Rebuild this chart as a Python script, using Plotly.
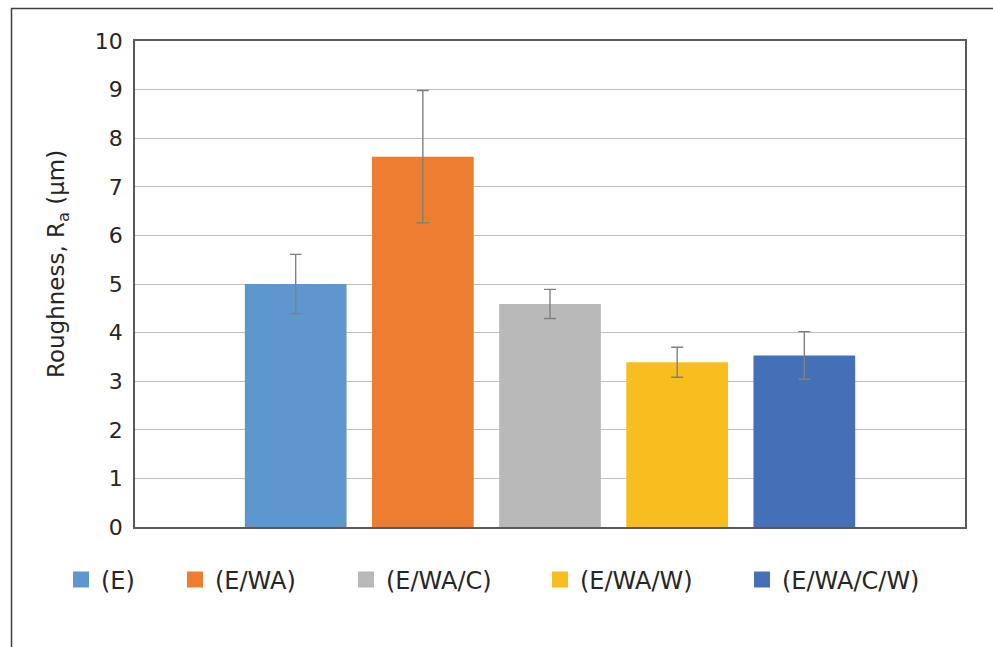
import plotly.graph_objects as go

series = ["(E)", "(E/WA)", "(E/WA/C)", "(E/WA/W)", "(E/WA/C/W)"]
values = [5.00, 7.62, 4.59, 3.39, 3.53]
errors = [0.61, 1.36, 0.30, 0.31, 0.49]
colors = ["#5E97CD", "#ED7D31", "#B9B9B9", "#F8BE1F", "#4470B8"]
category = [""]
y_title = "Roughness, R<sub>a</sub> (μm)"

W, H = 993, 647
L, R, T, B = 135, 28, 41, 120
pw, ph = W - L - R, H - T - B

def px_to_paper_x(px):
    return (px - L) / pw

def px_to_paper_y(py):
    return (H - B - py) / ph

# left pixel positions of each legend entry
legend_px = [61, 175, 346, 540, 742]

fig = go.Figure()
legends = {}
for i, (name, v, e, c) in enumerate(zip(series, values, errors, colors)):
    lg = "legend" if i == 0 else f"legend{i+1}"
    fig.add_trace(go.Bar(
        x=category, y=[v], name=name, marker_color=c, marker_line_width=0,
        showlegend=False,
        error_y=dict(type="data", array=[e], visible=True, color="#808080",
                     thickness=1.4, width=6),
    ))
    fig.add_trace(go.Scatter(
        x=[None], y=[None], mode="markers", name=name, legend=lg,
        marker=dict(symbol="square", size=16, color=c, line=dict(width=0)),
        hoverinfo="skip",
    ))
    legends[lg] = dict(orientation="h", x=px_to_paper_x(legend_px[i]), xanchor="left",
                       y=px_to_paper_y(580), yanchor="middle",
                       font=dict(family="DejaVu Sans", size=24, color="#262626"),
                       itemwidth=30, bgcolor="rgba(0,0,0,0)")

fig.update_layout(
    width=W, height=H,
    margin=dict(l=L, r=R, t=T, b=B),
    paper_bgcolor="white", plot_bgcolor="white",
    barmode="group", bargap=0.234, bargroupgap=0.2,
    font=dict(family="DejaVu Sans", color="#262626", size=22),
    showlegend=True,
    xaxis=dict(showticklabels=False, showline=True, mirror=True,
               linecolor="#595959", linewidth=1.5, showgrid=False,
               ticks=""),
    yaxis=dict(range=[0, 10], dtick=1, showline=True, mirror=True,
               linecolor="#595959", linewidth=1.5,
               showgrid=True, gridcolor="#BFBFBF", gridwidth=1,
               ticks="", ticklabelstandoff=6, zeroline=False,
               tickfont=dict(family="DejaVu Sans", size=22, color="#262626")),
    annotations=[dict(text=y_title, textangle=-90, showarrow=False,
                      xref="paper", yref="paper",
                      x=px_to_paper_x(58), y=px_to_paper_y(264),
                      xanchor="center", yanchor="middle",
                      font=dict(family="DejaVu Sans", size=23, color="#262626"))],
    shapes=[dict(type="rect", xref="paper", yref="paper",
                 x0=px_to_paper_x(11.5), x1=px_to_paper_x(1010),
                 y0=px_to_paper_y(670), y1=px_to_paper_y(8.5),
                 line=dict(color="#404040", width=1.5), layer="below")],
    **legends,
)

fig.write_html("out.html", post_script="document.body.style.margin='0';",
               config={"displayModeBar": False})
